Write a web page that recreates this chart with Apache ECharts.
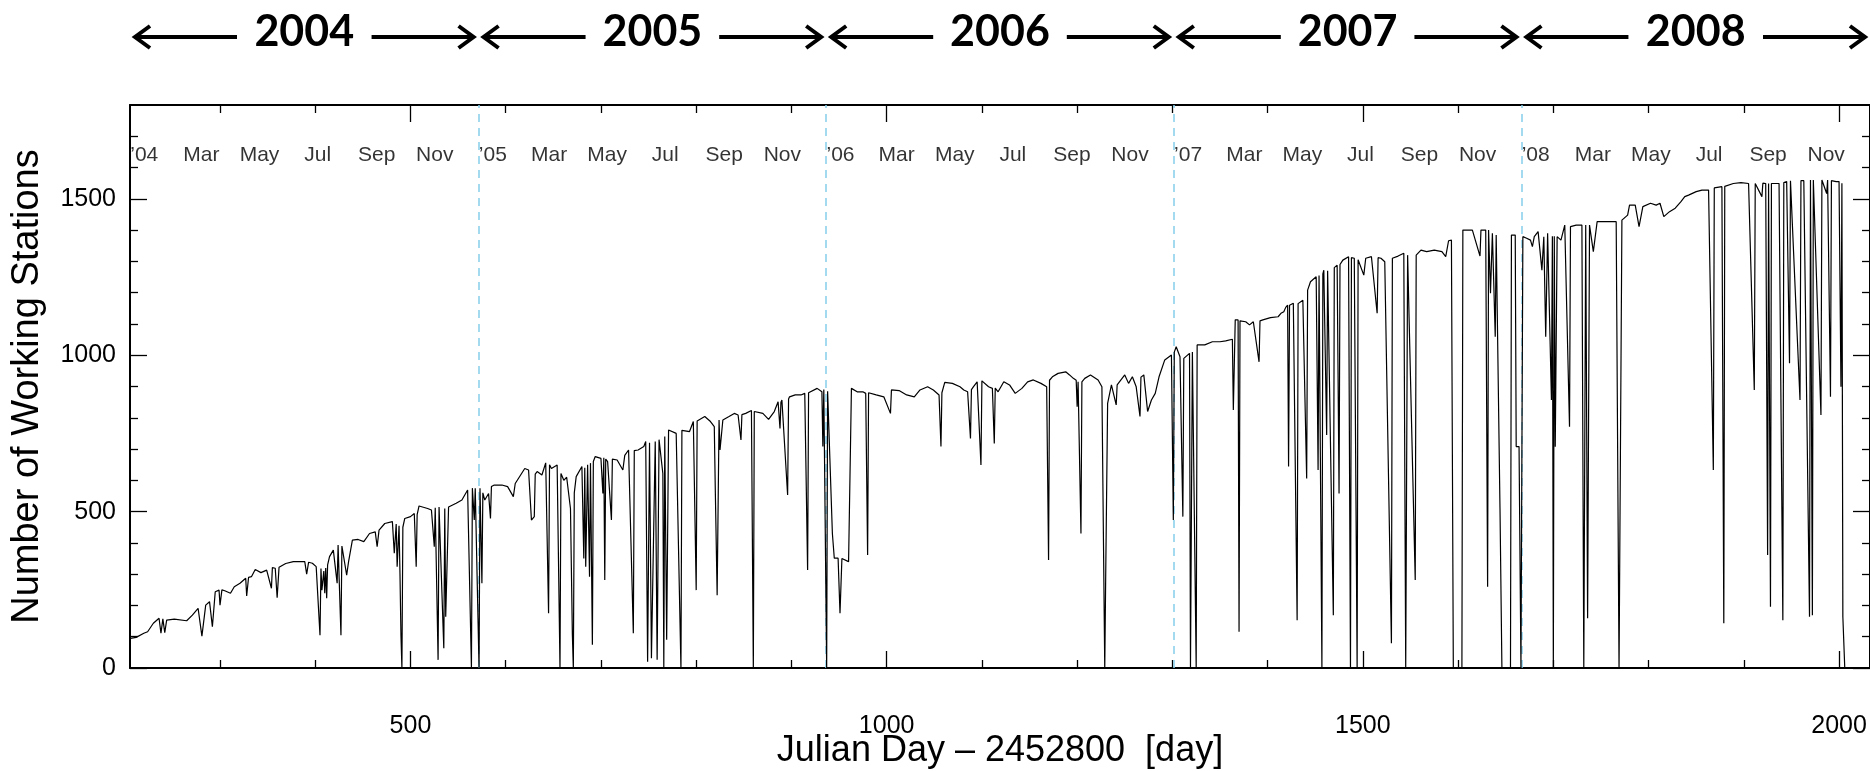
<!DOCTYPE html>
<html>
<head>
<meta charset="utf-8">
<script src="https://cdn.jsdelivr.net/npm/echarts@6/dist/echarts.min.js"></script>
<style>
html,body{margin:0;padding:0;background:#fff;}
#chart{width:1870px;height:771px;}
</style>
</head>
<body>
<div id="chart"></div>
<script>
// ---- data ----
const yearLabels = ['2004', '2005', '2006', '2007', '2008'];
const yearStarts = [205.5, 571.5, 936.5, 1301.5, 1666.5, 2032.5];
const monthLabels = ['\u201904','Mar','May','Jul','Sep','Nov',
                     '\u201905','Mar','May','Jul','Sep','Nov',
                     '\u201906','Mar','May','Jul','Sep','Nov',
                     '\u201907','Mar','May','Jul','Sep','Nov',
                     '\u201908','Mar','May','Jul','Sep','Nov'];
const xLabelValues = [500, 1000, 1500, 2000];
const xMinorTicks = [300,400,600,700,800,900,1100,1200,1300,1400,1600,1700,1800,1900];
const yLabelValues = [0, 500, 1000, 1500];
const yMinorTicks = [100,200,300,400,600,700,800,900,1100,1200,1300,1400,1600,1700];
const dailyCounts = [
[206,95],[212,98],[220,111],[224,116],[230,143],[236,159],[238,111],[240,157],[242,113],[244,153],[252,156],[265,151],[271,169],[277,191],[281,102],[285,201],[289,212],[292,132],[295,244],[299,249],[300,201],[302,250],[305,247],[311,239],[315,260],[321,271],[327,287],[328,230],[330,290],[333,292],[337,315],[343,305],[349,313],[354,255],[355,321],[358,319],[360,225],[362,322],[363,324],[369,334],[377,340],[389,340],[391,300],[393,338],[397,335],[401,324],[403,320],[405,105],[406,318],[407,249],[409,310],[410,239],[411,320],[412,223],[413,330],[415,356],[419,377],[421,380],[423,271],[424,393],[427,105],[428,390],[430,388],[433,297],[435,340],[437,345],[439,409],[445,411],[451,404],[457,430],[463,435],[465,388],[467,441],[473,462],[481,468],[483,367],[485,460],[486,324],[488,455],[489,297],[490,105],[491,0],[492,450],[494,478],[500,484],[504,494],[506,324],[507,490],[509,518],[518,510],[522,505],[525,388],[526,512],[527,516],[529,26],[530,515],[531,520],[535,63],[536,510],[537,164],[539,160],[540,515],[542,518],[548,527],[554,537],[560,569],[564,0],[565,575],[567,473],[568,575],[570,569],[572,0],[573,575],[575,271],[576,560],[578,537],[582,558],[584,478],[585,580],[588,585],[596,585],[602,580],[608,548],[610,590],[612,596],[620,638],[624,633],[627,473],[630,484],[631,620],[633,628],[638,617],[642,656],[645,175],[646,650],[648,638],[654,649],[657,0],[658,622],[661,600],[664,610],[668,510],[670,105],[671,0],[672,560],[674,612],[680,644],[682,350],[683,640],[684,324],[686,650],[688,292],[689,655],[691,74],[692,660],[694,676],[700,670],[702,558],[703,672],[704,281],[705,668],[707,660],[711,473],[712,668],[717,665],[723,633],[725,680],[729,697],[734,111],[735,695],[739,697],[745,708],[747,724],[749,20],[751,720],[753,31],[755,30],[757,724],[759,26],[761,730],[765,622],[766,0],[767,740],[769,90],[771,761],[779,750],[784,0],[785,760],[787,766],[793,756],[797,788],[800,249],[801,790],[803,793],[809,804],[815,788],[819,772],[820,580],[822,233],[824,793],[825,697],[828,793],[834,803],[840,814],[844,809],[847,729],[848,810],[852,814],[858,823],[860,0],[861,820],[863,820],[870,814],[876,795],[882,820],[886,851],[888,766],[889,850],[890,857],[896,553],[897,860],[898,867],[904,873],[910,873],[914,878],[917,313],[918,880],[920,883],[927,894],[932,883],[933,708],[934,890],[937,0],[938,885],[940,883],[943,430],[945,351],[949,351],[951,175],[953,350],[955,351],[960,340],[963,894],[969,883],[975,883],[978,878],[980,361],[981,880],[983,878],[989,873],[997,867],[1004,814],[1005,889],[1013,887],[1021,873],[1029,867],[1035,889],[1043,899],[1049,889],[1055,873],[1057,708],[1058,880],[1061,913],[1069,910],[1077,899],[1081,889],[1085,883],[1088,734],[1089,890],[1091,899],[1095,915],[1099,649],[1100,918],[1102,921],[1107,899],[1111,894],[1113,718],[1114,895],[1117,883],[1123,915],[1129,905],[1135,878],[1142,894],[1148,915],[1154,921],[1162,910],[1168,899],[1170,345],[1171,920],[1174,931],[1180,942],[1188,947],[1192,937],[1196,926],[1199,920],[1200,835],[1201,915],[1204,430],[1205,915],[1208,926],[1214,937],[1222,921],[1226,899],[1229,0],[1230,300],[1232,846],[1236,905],[1241,841],[1242,905],[1244,910],[1250,937],[1254,910],[1258,931],[1262,899],[1266,804],[1267,930],[1270,937],[1274,820],[1278,857],[1282,878],[1286,931],[1292,985],[1299,1001],[1301,473],[1302,1010],[1304,1027],[1306,1033],[1308,995],[1311,484],[1312,990],[1314,995],[1318,1006],[1319,0],[1321,1010],[1325,0],[1326,1033],[1334,1033],[1342,1043],[1350,1043],[1356,1046],[1363,1051],[1364,825],[1366,1113],[1369,1113],[1370,116],[1371,1110],[1373,1113],[1377,1107],[1381,1097],[1385,1107],[1391,979],[1392,1110],[1395,1113],[1403,1120],[1411,1123],[1414,1134],[1417,1139],[1419,1153],[1421,1160],[1422,644],[1423,1160],[1427,1166],[1431,153],[1432,1165],[1437,1176],[1441,606],[1442,1208],[1445,1235],[1451,1251],[1453,633],[1454,1255],[1457,0],[1458,1260],[1459,1272],[1462,745],[1463,1270],[1465,1272],[1469,169],[1470,1280],[1473,1288],[1475,558],[1476,1290],[1479,1304],[1485,1315],[1487,0],[1488,1312],[1491,1310],[1494,0],[1495,1305],[1497,1304],[1501,1256],[1503,1310],[1509,1315],[1515,1134],[1516,1312],[1519,1310],[1523,1299],[1530,79],[1531,1310],[1533,1315],[1537,1317],[1543,1326],[1545,0],[1547,1320],[1555,281],[1556,1320],[1558,1326],[1561,1336],[1567,1331],[1575,1336],[1583,1331],[1587,1315],[1590,1366],[1593,1368],[1595,0],[1604,0],[1605,1400],[1607,1400],[1615,1400],[1623,1317],[1624,1400],[1629,1400],[1631,260],[1632,1400],[1634,1198],[1636,1390],[1639,1059],[1640,1384],[1642,1384],[1644,510],[1646,0],[1655,0],[1656,1384],[1660,1384],[1661,708],[1664,708],[1666,0],[1667,0],[1668,1379],[1672,1374],[1676,1368],[1678,1347],[1680,1379],[1684,1395],[1688,1272],[1690,1379],[1692,1059],[1694,1390],[1698,857],[1699,1380],[1700,0],[1701,1380],[1702,707],[1704,1379],[1708,1368],[1712,1416],[1714,1411],[1717,771],[1718,1411],[1720,1411],[1724,1416],[1730,1416],[1732,0],[1734,1416],[1736,159],[1738,1416],[1740,1416],[1742,1331],[1746,1427],[1752,1427],[1760,1427],[1766,1427],[1769,0],[1772,1432],[1778,1448],[1780,1480],[1786,1480],[1790,1411],[1794,1475],[1802,1486],[1808,1480],[1812,1486],[1816,1443],[1822,1459],[1828,1470],[1834,1491],[1838,1507],[1842,1512],[1850,1523],[1856,1528],[1863,1528],[1868,633],[1869,1535],[1871,1539],[1877,1539],[1879,143],[1880,1540],[1881,1544],[1889,1549],[1897,1552],[1905,1549],[1911,889],[1912,1549],[1919,1507],[1920,1550],[1923,1549],[1925,361],[1926,1549],[1928,196],[1929,1549],[1937,1549],[1941,153],[1942,1552],[1945,1555],[1948,974],[1949,1558],[1951,1560],[1959,857],[1960,1558],[1963,1558],[1969,164],[1970,1560],[1972,169],[1973,1560],[1975,1562],[1981,809],[1982,1560],[1987,1517],[1988,1560],[1991,867],[1992,1558],[1997,1555],[2000,1555],[2002,899],[2003,1550],[2004,164],[2005,164],[2006,0]
];

// ---- derived ----
const X_MIN = yearStarts[0], X_MAX = yearStarts[yearStarts.length - 1];
const dayOf = (y, m) => (Date.UTC(y, m, 1) - Date.UTC(2004, 0, 1)) / 86400000 + yearStarts[0];
const monthItems = monthLabels.map((lab, i) => ({
  name: lab,
  value: [dayOf(2004 + Math.floor(i / 6), (i % 6) * 2) + 15, 1640]
}));
const yearItems = yearLabels.map((lab, i) => ({ name: lab, value: [yearStarts[i], yearStarts[i + 1]] }));

const FONT = "'Liberation Sans', Arial, sans-serif";
const black = '#000';
const plain = v => String(v);

function xAx(pos, ticks, len, line, labels) {
  return {
    type: 'value', gridIndex: 0, position: pos, min: X_MIN, max: X_MAX,
    axisLine: { show: line, onZero: false, lineStyle: { color: black, width: 2 } },
    axisTick: { show: true, inside: true, length: len, customValues: ticks, lineStyle: { color: black, width: 1.3 } },
    axisLabel: labels ? { show: true, customValues: labels, formatter: plain, margin: 46, fontSize: 25, color: black, fontFamily: FONT } : { show: false },
    splitLine: { show: false }
  };
}
function yAx(pos, ticks, len, line, labels) {
  return {
    type: 'value', gridIndex: 0, position: pos, min: 0, max: 1800,
    axisLine: { show: line, onZero: false, lineStyle: { color: black, width: 2 } },
    axisTick: { show: true, inside: true, length: len, customValues: ticks, lineStyle: { color: black, width: 1.3 } },
    axisLabel: labels ? { show: true, customValues: labels, formatter: plain, margin: 14, fontSize: 25, color: black, fontFamily: FONT } : { show: false },
    splitLine: { show: false }
  };
}

const xAxes = [
  Object.assign(xAx('bottom', xLabelValues, 17, true, xLabelValues), {
    name: 'Julian Day \u2013 2452800  [day]', nameLocation: 'middle', nameGap: 65, nameMoveOverlap: false,
    nameTextStyle: { fontSize: 36, color: black, fontFamily: FONT }
  }),
  xAx('top', xLabelValues, 17, true, null),
  xAx('bottom', xMinorTicks, 8, false, null),
  xAx('top', xMinorTicks, 8, false, null),
  { type: 'value', gridIndex: 1, min: X_MIN, max: X_MAX, show: false }
];
const yAxes = [
  Object.assign(yAx('left', yLabelValues, 17, true, yLabelValues), {
    name: 'Number of Working Stations', nameLocation: 'middle', nameGap: 83, nameRotate: 90, nameMoveOverlap: false,
    nameTextStyle: { fontSize: 38, color: black, fontFamily: FONT }
  }),
  yAx('right', yLabelValues, 17, true, null),
  yAx('left', yMinorTicks, 8, false, null),
  yAx('right', yMinorTicks, 8, false, null),
  { type: 'value', gridIndex: 1, min: 0, max: 74, inverse: true, show: false }
];

const chart = echarts.init(document.getElementById('chart'), null, { renderer: 'canvas' });
chart.setOption({
  animation: false,
  backgroundColor: '#fff',
  grid: [
    { left: 130, right: 0, top: 105, bottom: 103, containLabel: false, outerBoundsMode: 'none' },
    { left: 130, right: 0, top: 0, height: 74, containLabel: false, outerBoundsMode: 'none' }
  ],
  xAxis: xAxes,
  yAxis: yAxes,
  series: [
    {
      type: 'line', xAxisIndex: 0, yAxisIndex: 0, data: dailyCounts,
      showSymbol: false, symbol: 'none', sampling: null, silent: true,
      lineStyle: { color: black, width: 1.2 }, z: 5,
      markLine: {
        silent: true, symbol: 'none', animation: false,
        label: { show: false },
        lineStyle: { color: '#87CEEB', type: [8, 6], width: 1.5 },
        data: yearStarts.slice(1, -1).map(d => ({ xAxis: d }))
      }
    },
    {
      type: 'scatter', xAxisIndex: 0, yAxisIndex: 0, data: monthItems, silent: true,
      symbolSize: 1, itemStyle: { color: 'rgba(0,0,0,0)' },
      label: { show: true, position: 'inside', formatter: '{b}', fontSize: 21, color: black, fontFamily: FONT },
      z: 6
    },
    {
      type: 'custom', xAxisIndex: 4, yAxisIndex: 4, data: yearItems, silent: true,
      renderItem: function (params, api) {
        const s = api.coord([api.value(0), 37]);
        const e = api.coord([api.value(1), 37]);
        const y = s[1], x0 = s[0], x1 = e[0];
        const st = { stroke: black, lineWidth: 4, fill: null, lineJoin: 'miter' };
        return {
          type: 'group',
          children: [
            { type: 'line', shape: { x1: x0 + 5, y1: y, x2: x0 + 107, y2: y }, style: st },
            { type: 'polyline', shape: { points: [[x0 + 20, y - 11], [x0 + 5, y], [x0 + 20, y + 11]] }, style: st },
            { type: 'line', shape: { x1: x1 - 107, y1: y, x2: x1 - 5, y2: y }, style: st },
            { type: 'polyline', shape: { points: [[x1 - 20, y - 11], [x1 - 5, y], [x1 - 20, y + 11]] }, style: st },
            { type: 'text', x: (x0 + x1) / 2, y: y - 5,
              style: { text: yearLabels[params.dataIndex], fill: black, fontSize: 43, fontWeight: 'bold',
                       fontFamily: 'Lato, sans-serif', align: 'center', verticalAlign: 'middle' } }
          ]
        };
      }
    }
  ]
});
</script>
</body>
</html>
